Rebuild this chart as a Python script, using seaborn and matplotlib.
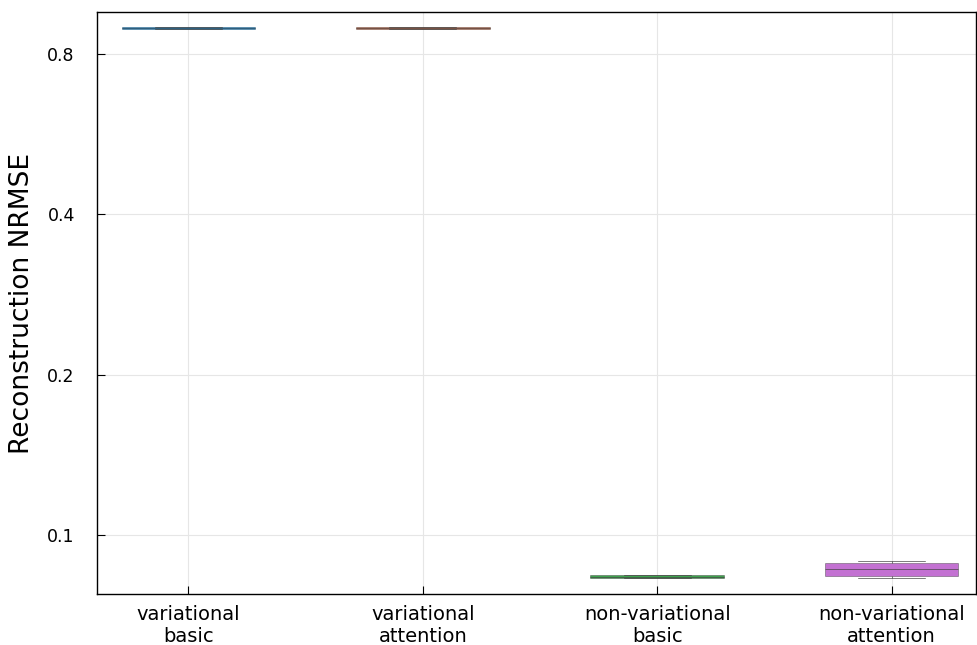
import numpy as np
import pandas as pd
import matplotlib
matplotlib.use("Agg")
import matplotlib.pyplot as plt
import seaborn as sns
from matplotlib.ticker import FixedLocator, NullLocator

categories = ["variational\nbasic", "variational\nattention",
              "non-variational\nbasic", "non-variational\nattention"]
# five-number samples (min, q1, median, q3, max)
vals_var_basic = [0.8915, 0.8920, 0.8948, 0.8985, 0.8990]
vals_var_attention = [0.8910, 0.8920, 0.8950, 0.8985, 0.8995]
vals_nonvar_basic = [0.0829, 0.0831, 0.0835, 0.0840, 0.0842]
vals_nonvar_attention = [0.0830, 0.0838, 0.0864, 0.0886, 0.0894]
colors = ["#009AFA", "#E36F47", "#3EA44E", "#C371D2"]
yticks = [0.1, 0.2, 0.4, 0.8]
ytick_labels = ["0.1", "0.2", "0.4", "0.8"]

series = [vals_var_basic, vals_var_attention, vals_nonvar_basic, vals_nonvar_attention]
df = pd.DataFrame({
    "model": np.repeat(categories, [len(s) for s in series]),
    "nrmse": np.concatenate(series),
})

sns.set_style("white")
plt.rcParams["font.family"] = ["DejaVu Sans"]

fig = plt.figure(figsize=(9.77, 6.45), dpi=100)
ax = fig.add_axes([97/977, 1 - 594/645, 1 - 97/977 - 0.001, (594 - 12)/645])

sns.boxplot(data=df, x="model", y="nrmse", hue="model", palette=colors,
            order=categories, hue_order=categories, legend=False,
            width=0.57, whis=np.inf, saturation=1, linewidth=0.7,
            linecolor="#444444", ax=ax, dodge=False)
for p in ax.patches:
    p.set_edgecolor((0.2, 0.2, 0.2, 0.4))
for ln in ax.lines:
    ln.set_alpha(0.7)

ax.set_yscale("log", base=2)
ax.set_ylim(0.0775, 0.959)
ax.set_xlim(-0.39, 3.36)
ax.yaxis.set_major_locator(FixedLocator(yticks))
ax.yaxis.set_minor_locator(NullLocator())
ax.set_yticklabels(ytick_labels)
ax.set_xlabel("")
ax.set_ylabel("Reconstruction NRMSE", fontsize=19, labelpad=9, color="black")
ax.tick_params(axis="both", direction="in", length=6, color="black",
               labelcolor="black", bottom=True, left=True, top=False, right=False)
ax.tick_params(axis="x", pad=8, labelsize=14)
ax.tick_params(axis="y", pad=16, labelsize=12.5)
ax.grid(True, color="#e6e6e6", linewidth=0.8)
ax.set_axisbelow(True)
for s in ax.spines.values():
    s.set_color("black")
    s.set_linewidth(1.0)

fig.savefig("out.png", dpi=100)
